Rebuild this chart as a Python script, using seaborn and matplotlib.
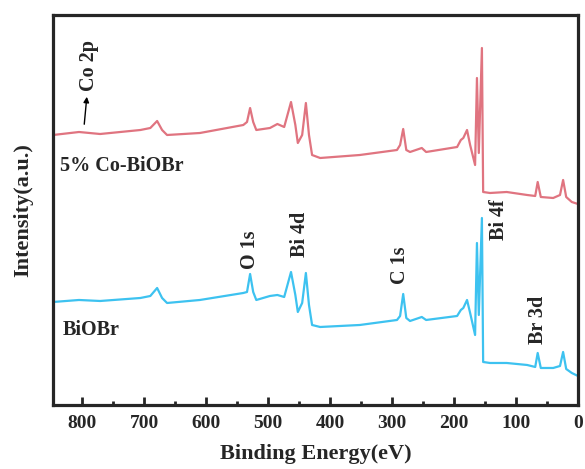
import numpy as np
import pandas as pd
import seaborn as sns
import matplotlib.pyplot as plt
from matplotlib.ticker import MultipleLocator

# binding energy (eV) of the traced points, shared by both survey spectra
energy = [847, 805, 771, 706, 690, 679, 671, 663, 610, 540, 534, 529, 524, 519,
          497, 485, 474, 463, 456, 452, 445, 439, 434, 429, 416, 352, 292, 287,
          282, 277, 271, 252, 245, 195, 189, 185, 179, 174, 166, 163, 160, 155,
          153, 142, 115, 82, 69, 65, 60, 40, 29, 24, 19, 10, 0]

# 5% Co-BiOBr (offset upward)
co_biobr = [270, 273, 271, 275, 277, 284, 275, 270, 272, 280, 283, 297, 283, 275,
            277, 281, 278, 303, 280, 262, 270, 302, 270, 250, 247, 250, 255, 260,
            276, 255, 253, 257, 253, 258, 265, 267, 275, 260, 240, 327, 252, 357,
            213, 212, 213, 210, 209, 223, 208, 207, 210, 225, 208, 203, 201]

# pure BiOBr
biobr = [103, 105, 104, 107, 109, 117, 107, 102, 105, 112, 113, 131, 113, 105,
         109, 110, 108, 133, 110, 93, 102, 132, 100, 80, 78, 80, 85, 89,
         111, 87, 84, 88, 85, 89, 95, 97, 105, 92, 70, 162, 90, 187,
         43, 42, 42, 40, 38, 52, 37, 37, 39, 53, 36, 32, 29]

df = pd.DataFrame({
    "energy": energy * 2,
    "intensity": co_biobr + biobr,
    "sample": ["5% Co-BiOBr"] * len(energy) + ["BiOBr"] * len(energy),
})

sns.set_style("ticks")
plt.rcParams["font.family"] = ["Liberation Serif", "DejaVu Serif"]
plt.rcParams["font.weight"] = "bold"

fig = plt.figure(figsize=(5.85, 4.69), dpi=100)
ax = fig.add_axes([0.0906, 0.1365, 0.8974, 0.8315])

sns.lineplot(data=df, x="energy", y="intensity", hue="sample",
             palette={"5% Co-BiOBr": "#E07480", "BiOBr": "#3DC2F0"},
             linewidth=1.6, legend=False, ax=ax, sort=False, estimator=None)

ax.set_xlim(847, 0)
ax.set_ylim(0, 390)
ax.set_yticks([])
ax.xaxis.set_major_locator(MultipleLocator(100))
ax.xaxis.set_minor_locator(MultipleLocator(50))
ax.tick_params(axis="x", which="major", direction="in", length=6, width=2,
               labelsize=14, pad=7)
ax.tick_params(axis="x", which="minor", direction="in", length=3, width=2)
for lab in ax.get_xticklabels():
    lab.set_fontweight("bold")
for sp in ax.spines.values():
    sp.set_linewidth(2.3)
    sp.set_visible(True)

ax.set_xlabel("Binding Energy(eV)", fontsize=16, fontweight="bold", labelpad=9)
ax.set_ylabel("Intensity(a.u.)", fontsize=16, fontweight="bold", labelpad=14)

fs = 14.5
ax.text(835, 239, "5% Co-BiOBr", fontsize=fs, fontweight="bold", va="center")
ax.text(831, 75, "BiOBr", fontsize=fs, fontweight="bold", va="center")
peak_labels = [("Co 2p", 789, 340), ("O 1s", 529, 155), ("Bi 4d", 448, 171),
               ("C 1s", 287, 140), ("Bi 4f", 127, 185), ("Br 3d", 65, 85)]
for txt, x, y in peak_labels:
    ax.text(x, y, txt, rotation=90, fontsize=fs, fontweight="bold",
            ha="center", va="center")
ax.annotate("", xy=(792, 311), xytext=(797, 278),
            arrowprops=dict(arrowstyle="-|>", color="black", lw=1, mutation_scale=8))

fig.savefig("out.png", dpi=100)
